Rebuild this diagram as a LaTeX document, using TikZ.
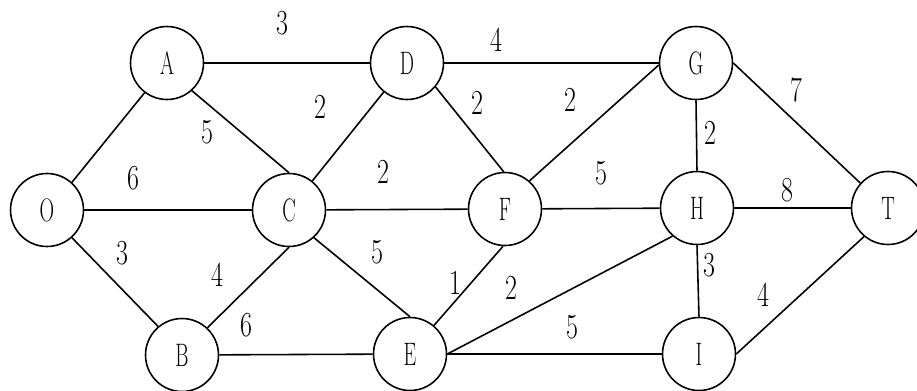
\documentclass[tikz,border=0pt]{standalone}
\usepackage{graphicx}
\newcommand{\nx}[1]{\scalebox{0.62}[1]{#1}}
\newcommand{\wt}[1]{\scalebox{0.74}[1]{#1}}
\tikzset{
  vtx/.style={circle, draw, line width=0.9pt, minimum size=1.46cm, inner sep=0pt, font=\fontsize{18.5}{22}\selectfont},
  wlab/.style={inner sep=0pt, font=\fontsize{20}{24}\selectfont},
  edge/.style={line width=0.9pt}
}
\begin{document}
\begin{tikzpicture}[x=0.02cm, y=-0.02cm]
\useasboundingbox (0,0) rectangle (917,390);
\clip (0,0) rectangle (917,390);
\fill[white] (0,0) rectangle (917,390);
% vertices
\node[vtx] (O) at (47,210) {\nx{O}};
\node[vtx] (A) at (167,63) {\nx{A}};
\node[vtx] (D) at (407,63) {\nx{D}};
\node[vtx] (G) at (696,63) {\nx{G}};
\node[vtx] (C) at (289,210) {\nx{C}};
\node[vtx] (F) at (505,209) {\nx{F}};
\node[vtx] (H) at (697,208) {\nx{H}};
\node[vtx] (T) at (888,208) {\nx{T}};
\node[vtx] (B) at (182,355) {\nx{B}};
\node[vtx] (E) at (410,354) {\nx{E}};
\node[vtx] (I) at (699,354) {\nx{I}};
% edges
\draw[edge] (O.48) -- (A.233);
\draw[edge] (O) -- (C);
\draw[edge] (O.-48) -- (B.130);
\draw[edge] (A) -- (D);
\draw[edge] (A.-48) -- (C.north);
\draw[edge] (D) -- (G);
\draw[edge] (D) -- (C);
\draw[edge] (D.-40) -- (F.92);
\draw[edge] (F.49) -- (G.183);
\draw[edge] (G.south) -- (H.north);
\draw[edge] (G.east) -- (T.138);
\draw[edge] (C) -- (F);
\draw[edge] (C.-48) -- (E.north);
\draw[edge] (C.south) -- (B.47);
\draw[edge] (F) -- (H);
\draw[edge] (F.-93) -- (E.50);
\draw[edge] (H) -- (T);
\draw[edge] (H.229) -- (E.east);
\draw[edge] (H.south) -- (I.north);
\draw[edge] (B) -- (E);
\draw[edge] (E) -- (I);
\draw[edge] (I.east) -- (T.230);
% weights
\node[wlab] (l1) at (282,23) {\wt{3}};
\node[wlab] (l2) at (496,40) {\wt{4}};
\node[wlab] (l3) at (320,107) {\wt{2}};
\node[wlab] (l4) at (207,132) {\wt{5}};
\node[wlab] (l5) at (477,103) {\wt{2}};
\node[wlab] (l6) at (570,100) {\wt{2}};
\node[wlab] (l7) at (796,90) {\wt{7}};
\node[wlab] (l8) at (710,133) {\wt{2}};
\node[wlab] (l9) at (133,178) {\wt{6}};
\node[wlab] (l10) at (383,172) {\wt{2}};
\node[wlab] (l11) at (601,173) {\wt{5}};
\node[wlab] (l12) at (787,190) {\wt{8}};
\node[wlab] (l13) at (122,253) {\wt{3}};
\node[wlab] (l14) at (217,275) {\wt{4}};
\node[wlab] (l15) at (377,252) {\wt{5}};
\node[wlab] (l16) at (455,283) {\wt{1}};
\node[wlab] (l17) at (511,288) {\wt{2}};
\node[wlab] (l18) at (709,265) {\wt{3}};
\node[wlab] (l19) at (763,295) {\wt{4}};
\node[wlab] (l20) at (246,325) {\wt{6}};
\node[wlab] (l21) at (572,327) {\wt{5}};
\end{tikzpicture}
\end{document}
